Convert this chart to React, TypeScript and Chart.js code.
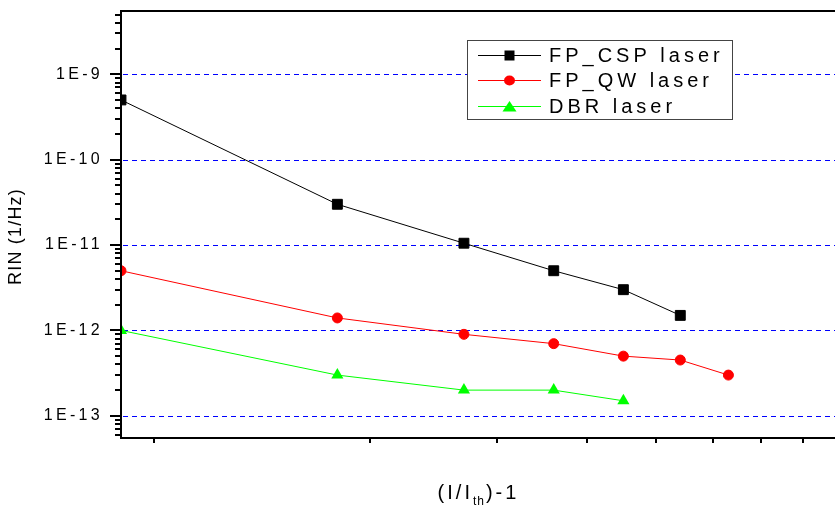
import React, { useEffect, useRef } from 'react';
import { Chart, registerables } from 'chart.js';

Chart.register(...registerables);

// ---- data ----
const currentRatio = [0.9, 1.8, 2.7, 3.6, 4.5, 5.4, 6.3];
const fpCspRin = [5e-10, 3e-11, 1.05e-11, 5e-12, 3e-12, 1.5e-12];
const fpQwRin = [5e-12, 1.4e-12, 9e-13, 7e-13, 5e-13, 4.5e-13, 3e-13];
const dbrRin = [1e-12, 3e-13, 2e-13, 2e-13, 1.5e-13];
const seriesLabels = ['FP_CSP laser', 'FP_QW laser', 'DBR laser'];
const seriesColors = ['#000000', '#ff0000', '#00ff00'];
const seriesMarkers = ['rect', 'circle', 'triangle'];
const yDecades = [1e-13, 1e-12, 1e-11, 1e-10, 1e-9];
const yTickLabels = ['1E-13', '1E-12', '1E-11', '1E-10', '1E-9'];
const yMinorMultipliers = [2, 3, 4, 5, 6, 7, 8, 9];
const xTicks = [1, 2, 3, 4, 5, 6, 7, 8, 9];
const xRange = [0.9, 8.64];
const yRange = [5.5e-14, 5.5e-9];
const xTitleMain = '(I/I';
const xTitleSub = 'th';
const xTitleEnd = ')-1';
const yTitle = 'RIN (1/Hz)';

const FONT = '"Liberation Sans", Arial, Helvetica, sans-serif';

function toPoints(values: number[]) {
  return values.map((v, i) => ({ x: currentRatio[i], y: v }));
}

const decorPlugin = {
  id: 'decor',
  beforeDraw(chart: any) {
    chart.ctx.letterSpacing = '3.3px';
  },
  beforeDatasetsDraw(chart: any) {
    const { ctx, chartArea: a, scales } = chart;
    const y = scales.y;
    const right = chart.width;
    ctx.save();
    ctx.letterSpacing = '0px';
    ctx.fillStyle = '#0000ff';
    yDecades.forEach((v) => {
      const py = Math.round(y.getPixelForValue(v));
      for (let px = Math.round(a.left) + 2; px < right; px += 9) {
        ctx.fillRect(px, py, Math.min(5, right - px), 1);
      }
    });
    ctx.restore();
  },
  afterDatasetsDraw(chart: any) {
    const { ctx, chartArea: a, scales } = chart;
    const x = scales.x;
    const y = scales.y;
    const right = chart.width;
    ctx.save();
    ctx.letterSpacing = '0px';
    ctx.setLineDash([]);
    ctx.strokeStyle = '#000';
    ctx.lineWidth = 2;
    // frame: top, left, bottom
    ctx.beginPath();
    ctx.moveTo(right, a.top);
    ctx.lineTo(a.left, a.top);
    ctx.lineTo(a.left, a.bottom);
    ctx.lineTo(right, a.bottom);
    ctx.stroke();
    // y ticks
    const minY = y.min;
    const maxY = y.max;
    ctx.beginPath();
    yDecades.forEach((d) => {
      const py = Math.round(y.getPixelForValue(d));
      ctx.moveTo(a.left - 11, py);
      ctx.lineTo(a.left, py);
    });
    [1e-14, ...yDecades].forEach((d) => {
      yMinorMultipliers.forEach((m) => {
        const v = d * m;
        if (v < minY || v > maxY) return;
        const py = Math.round(y.getPixelForValue(v));
        ctx.moveTo(a.left - 6, py);
        ctx.lineTo(a.left, py);
      });
    });
    // x ticks
    xTicks.forEach((t) => {
      const px = Math.round(x.getPixelForValue(t));
      if (px > right) return;
      ctx.moveTo(px, a.bottom);
      ctx.lineTo(px, a.bottom + 5);
    });
    ctx.stroke();

    // legend
    const bx = 467.5, by = 40.5, bw = 265, bh = 79;
    ctx.fillStyle = '#fff';
    ctx.fillRect(bx, by, bw, bh);
    ctx.strokeStyle = '#444';
    ctx.lineWidth = 1;
    ctx.strokeRect(bx, by, bw, bh);
    const rows = [55, 80, 106];
    chart.data.datasets.forEach((ds: any, i: number) => {
      const ry = rows[i];
      ctx.strokeStyle = ds.borderColor;
      ctx.lineWidth = 1;
      ctx.beginPath();
      ctx.moveTo(478, ry + 0.5);
      ctx.lineTo(541, ry + 0.5);
      ctx.stroke();
      ctx.fillStyle = ds.pointBackgroundColor;
      const mx = 509.5;
      ctx.beginPath();
      if (ds.pointStyle === 'rect') {
        ctx.rect(mx - 5, ry - 4.5, 10, 10);
      } else if (ds.pointStyle === 'circle') {
        ctx.ellipse(mx, ry + 0.5, 5.5, 5, 0, 0, Math.PI * 2);
      } else {
        ctx.moveTo(mx, ry - 5);
        ctx.lineTo(mx + 7, ry + 5.5);
        ctx.lineTo(mx - 7, ry + 5.5);
        ctx.closePath();
      }
      ctx.fill();
      ctx.fillStyle = '#000';
      ctx.font = `20px ${FONT}`;
      ctx.letterSpacing = '4px';
      ctx.textAlign = 'left';
      ctx.textBaseline = 'middle';
      ctx.fillText(ds.label, 549, ry + 1);
      ctx.letterSpacing = '0px';
    });

    // x title with subscript
    ctx.fillStyle = '#000';
    ctx.textBaseline = 'alphabetic';
    ctx.textAlign = 'left';
    ctx.letterSpacing = '3px';
    ctx.font = `20px ${FONT}`;
    const w1 = ctx.measureText(xTitleMain).width;
    const w3 = ctx.measureText(xTitleEnd).width;
    ctx.font = `12px ${FONT}`;
    ctx.letterSpacing = '1px';
    const w2 = ctx.measureText(xTitleSub).width;
    const total = w1 + w2 + w3;
    const cx = (a.left + right) / 2;
    let tx = cx - total / 2;
    const base = 499;
    ctx.font = `20px ${FONT}`;
    ctx.letterSpacing = '3px';
    ctx.fillText(xTitleMain, tx, base);
    tx += w1;
    ctx.font = `12px ${FONT}`;
    ctx.letterSpacing = '1px';
    ctx.fillText(xTitleSub, tx, base + 6);
    tx += w2 + 1;
    ctx.font = `20px ${FONT}`;
    ctx.letterSpacing = '3px';
    ctx.fillText(xTitleEnd, tx, base);

    // y title
    ctx.save();
    ctx.translate(16, 236.5);
    ctx.rotate(-Math.PI / 2);
    ctx.font = `18px ${FONT}`;
    ctx.letterSpacing = '1.2px';
    ctx.textAlign = 'center';
    ctx.textBaseline = 'middle';
    ctx.fillText(yTitle, 0, 0);
    ctx.restore();

    ctx.restore();
  },
  afterDraw(chart: any) {
    chart.ctx.letterSpacing = '0px';
  },
};

export default function App() {
  const canvasRef = useRef<HTMLCanvasElement | null>(null);

  useEffect(() => {
    const canvas = canvasRef.current;
    if (!canvas) return;
    const seriesValues = [fpCspRin, fpQwRin, dbrRin];
    const chart = new Chart(canvas, {
      type: 'line',
      data: {
        datasets: seriesValues.map((vals, i) => ({
          label: seriesLabels[i],
          data: toPoints(vals),
          borderColor: seriesColors[i],
          backgroundColor: seriesColors[i],
          pointBackgroundColor: seriesColors[i],
          pointBorderColor: seriesColors[i],
          pointStyle: seriesMarkers[i],
          pointRadius: i === 1 ? 5 : 7,
          pointBorderWidth: i === 2 ? 0 : 1,
          borderWidth: 1,
          tension: 0,
          fill: false,
          clip: { left: 0, top: 0, bottom: 0, right: 20 },
        })),
      },
      options: {
        animation: false,
        responsive: false,
        devicePixelRatio: 1,
        layout: { padding: { top: 11, left: 0, right: 0, bottom: 0 } },
        plugins: {
          legend: { display: false },
          tooltip: { enabled: false },
          title: { display: false },
        },
        events: [],
        scales: {
          x: {
            type: 'logarithmic',
            min: xRange[0],
            max: xRange[1],
            display: true,
            grid: { display: false, drawTicks: false },
            border: { display: false },
            ticks: { display: false },
            afterBuildTicks: (scale: any) => {
              scale.ticks = xTicks.map((v) => ({ value: v }));
            },
            afterFit: (scale: any) => {
              scale.height = 68;
              scale.paddingLeft = 0;
              scale.paddingRight = 0;
              scale.paddingTop = 0;
              scale.paddingBottom = 0;
            },
          },
          y: {
            type: 'logarithmic',
            min: yRange[0],
            max: yRange[1],
            grid: { display: false, drawTicks: false },
            border: { display: false },
            ticks: {
              color: '#000',
              padding: 18,
              font: { family: FONT, size: 16 },
              autoSkip: false,
              callback: (_v: any, index: number) => yTickLabels[index],
            },
            afterBuildTicks: (scale: any) => {
              scale.ticks = yDecades.map((v) => ({ value: v }));
            },
            afterFit: (scale: any) => {
              scale.width = 121;
              scale.paddingLeft = 0;
              scale.paddingRight = 0;
              scale.paddingTop = 0;
              scale.paddingBottom = 0;
            },
          },
        },
      } as any,
      plugins: [decorPlugin],
    });
    return () => chart.destroy();
  }, []);

  return (
    <div style={{ position: 'fixed', left: 0, top: 0, width: 835, height: 506, background: '#fff' }}>
      <canvas ref={canvasRef} width={835} height={506} style={{ display: 'block' }} />
    </div>
  );
}
